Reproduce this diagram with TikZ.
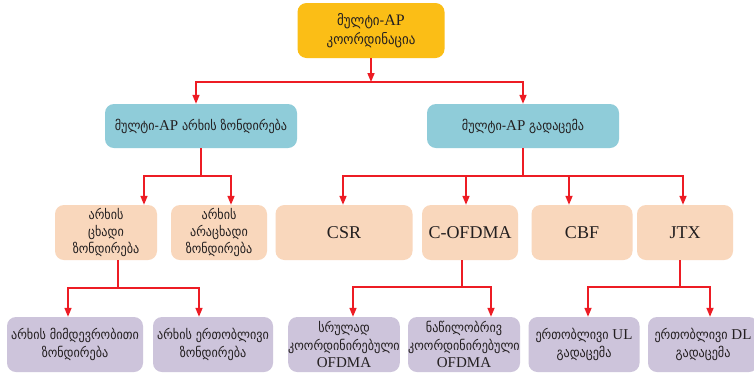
\documentclass[tikz,border=0pt]{standalone}
\usepackage{fontspec}
\setmainfont{Liberation Serif}
\newfontfamily\geo{DejaVu Sans Condensed}[Scale=0.9]
\usetikzlibrary{arrows.meta}
\definecolor{cgold}{RGB}{251,190,22}
\definecolor{cblue}{RGB}{143,204,217}
\definecolor{cpeach}{RGB}{249,215,188}
\definecolor{clav}{RGB}{205,196,219}
\definecolor{cred}{RGB}{237,28,36}
\definecolor{ctxt}{RGB}{35,31,32}
\begin{document}
\begin{tikzpicture}[x=1pt,y=-1pt,
  box/.style={rounded corners=9pt, inner sep=0pt, align=center, text=ctxt},
  topbox/.style={box, fill=cgold, minimum width=147pt, minimum height=55pt, font=\fontsize{16}{19}\selectfont},
  bluebox/.style={box, fill=cblue, minimum width=192pt, minimum height=44pt, font=\fontsize{15}{17}\selectfont},
  peachbox/.style={box, fill=cpeach, minimum height=55pt, font=\fontsize{15}{17}\selectfont},
  latbox/.style={box, fill=cpeach, minimum height=55pt, font=\fontsize{18}{20}\selectfont},
  lavbox/.style={box, fill=clav, minimum height=55pt, font=\fontsize{15}{17.5}\selectfont},
  link/.style={draw=cred, line width=1.6pt},
  arr/.style={link, -{Triangle[length=9pt,width=7pt]}},
]
\clip (0,0) rectangle (754,373);
\fill[white] (0,0) rectangle (754,373);
% level 1
\node[topbox] (T) at (371,30.5) {{\geo მულტი-}AP\\{\geo კოორდინაცია}};
% level 2
\node[bluebox] (BL) at (201,126) {{\geo მულტი-}AP {\geo არხის ზონდირება}};
\node[bluebox] (BR) at (523,126) {{\geo მულტი-}AP {\geo გადაცემა}};
% level 3
\node[peachbox, minimum width=102pt] (P1) at (106,232.5) {{\geo არხის}\\{\geo ცხადი}\\{\geo ზონდირება}};
\node[peachbox, minimum width=96pt] (P2) at (219,232.5) {{\geo არხის}\\{\geo არაცხადი}\\{\geo ზონდირება}};
\node[latbox, minimum width=137pt] (P3) at (344,232.5) {CSR};
\node[latbox, minimum width=96pt] (P4) at (470,232.5) {C-OFDMA};
\node[latbox, minimum width=101pt] (P5) at (582,232.5) {CBF};
\node[latbox, minimum width=96pt] (P6) at (685,232.5) {JTX};
% level 4
\node[lavbox, minimum width=136pt] (L1) at (75,344.5) {{\geo არხის მიმდევრობითი}\\{\geo ზონდირება}};
\node[lavbox, minimum width=120pt] (L2) at (213,344.5) {{\geo არხის ერთობლივი}\\{\geo ზონდირება}};
\node[lavbox, minimum width=111pt] (L3) at (344,344.5) {{\geo სრულად}\\{\geo კოორდინირებული}\\OFDMA};
\node[lavbox, minimum width=112pt] (L4) at (464,344.5) {{\geo ნაწილობრივ}\\{\geo კოორდინირებული}\\OFDMA};
\node[lavbox, minimum width=111pt] (L5) at (584,344.5) {{\geo ერთობლივი} UL\\{\geo გადაცემა}};
\node[lavbox, minimum width=110pt] (L6) at (703,344.5) {{\geo ერთობლივი} DL\\{\geo გადაცემა}};
% junctions
\coordinate (j1) at (371,82);
\coordinate (j2) at (201,176);
\coordinate (j3) at (523,176);
\coordinate (j4) at (118,288);
\coordinate (j5) at (462,287);
\coordinate (j6) at (680,287);
% connectors level 1 -> 2
\draw[arr] (T.south) -- (j1);
\draw[arr] (j1) -| ([xshift=-5pt]BL.north);
\draw[arr] (j1) -| (BR.north);
% level 2 -> 3
\draw[link] (BL.south) -- (j2);
\draw[arr] (j2) -| ([xshift=38pt]P1.north);
\draw[arr] (j2) -| ([xshift=12pt]P2.north);
\draw[link] (BR.south) -- (j3);
\draw[arr] (j3) -| ([xshift=-1pt]P3.north);
\draw[arr] (j3) -| ([xshift=-4pt]P4.north);
\draw[arr] (j3) -| ([xshift=-13pt]P5.north);
\draw[arr] (j3) -| ([xshift=-2pt]P6.north);
% level 3 -> 4
\draw[link] ([xshift=12pt]P1.south) -- (j4);
\draw[arr] (j4) -| ([xshift=-7pt]L1.north);
\draw[arr] (j4) -| ([xshift=-14pt]L2.north);
\draw[link] ([xshift=-8pt]P4.south) -- (j5);
\draw[arr] (j5) -| ([xshift=9pt]L3.north);
\draw[arr] (j5) -| ([xshift=27pt]L4.north);
\draw[link] ([xshift=-5pt]P6.south) -- (j6);
\draw[arr] (j6) -| ([xshift=4pt]L5.north);
\draw[arr] (j6) -| ([xshift=7pt]L6.north);
\end{tikzpicture}
\end{document}
